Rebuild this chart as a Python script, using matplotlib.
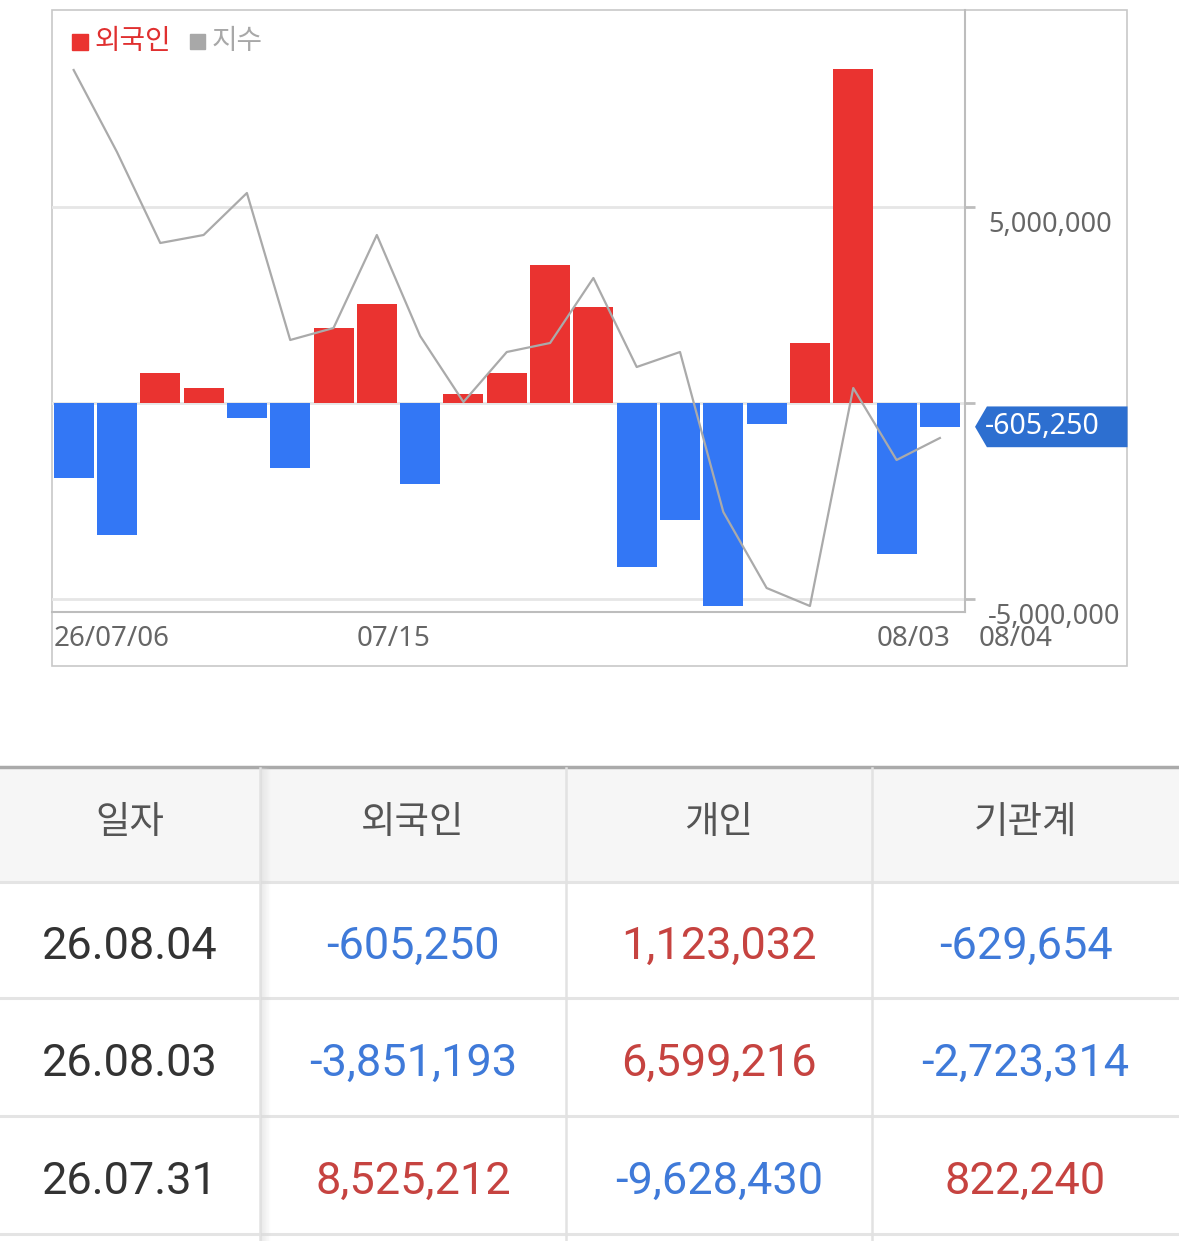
import matplotlib
matplotlib.use("Agg")
import matplotlib.pyplot as plt
import matplotlib.transforms as mtransforms
from matplotlib.patches import Polygon, Rectangle

# --- data ---
foreign = [-1.91e6, -3.37e6, 0.77e6, 0.38e6, -0.38e6, -1.66e6, 1.91e6,
           2.53e6, -2.07e6, 0.23e6, 0.77e6, 3.52e6, 2.45e6, -4.18e6,
           -2.98e6, -5.18e6, -0.54e6, 1.53e6, 8525212, -3851193, -605250]
index_vals = [2971, 2930, 2884.5, 2888.5, 2909.5, 2836, 2842, 2888.5, 2838,
              2805, 2830, 2834.5, 2867, 2822.5, 2830, 2750, 2712, 2703,
              2812, 2776, 2787]
x_label_pos = [0, 7, 19, 20]
x_labels = ["26/07/06", "07/15", "08/03", "08/04"]
y_ticks = [-5e6, 0, 5e6]

table_header = ["일자", "외국인", "개인", "기관계"]
table_dates = ["26.08.04", "26.08.03", "26.07.31"]
table_foreign = [-605250, -3851193, 8525212]
table_indiv = [1123032, 6599216, -9628430]
table_inst = [-629654, -2723314, 822240]

RED = "#ea3330"
BLUE = "#3377f5"
W, H = 1179, 1241

plt.rcParams['font.family'] = ['Noto Sans', 'Noto Sans CJK KR', 'DejaVu Sans']
fig = plt.figure(figsize=(W / 100, H / 100), dpi=100)
fig.patch.set_facecolor("white")

# background overlay in pixel coordinates
bg = fig.add_axes([0, 0, 1, 1], zorder=0)
bg.set_xlim(0, W)
bg.set_ylim(H, 0)
bg.axis("off")

# chart outer box
bg.add_patch(Rectangle((52, 10), 1127 - 52, 666 - 10, fill=False,
                       edgecolor="#c8c8c8", lw=1.2))

# main chart axes
ax = fig.add_axes([52 / W, 1 - 612 / H, (965 - 52) / W, (612 - 10) / H], zorder=2)
ax.patch.set_alpha(0)
xs = list(range(len(foreign)))
ax.bar(xs, foreign, width=0.924, color=[RED if v > 0 else BLUE for v in foreign],
       zorder=2)
ax.set_xlim(-0.5, 20.58)
ax.set_ylim(-5.33e6, 10.03e6)
for t in y_ticks:
    ax.axhline(t, color="#e6e6e6", lw=2, zorder=1)

# index line on hidden twin axis
ax2 = ax.twinx()
ax2.plot(xs, index_vals, color="#aaaaaa", lw=1.6, zorder=3)
ax2.set_ylim(2700, 3001)
ax2.axis("off")

for s in ["top", "left"]:
    ax.spines[s].set_visible(False)
for s in ["right", "bottom"]:
    ax.spines[s].set_color("#bdbdbd")
    ax.spines[s].set_linewidth(1.5)
ax.set_xticks([])
ax.yaxis.tick_right()
ax.set_yticks(y_ticks)
ax.set_yticklabels([])
ax.tick_params(axis="y", left=False, right=True, length=7, width=2,
               color="#bdbdbd")

# right tick labels (drawn slightly below the ticks, like the reference)
ytrans = mtransforms.blended_transform_factory(ax.transAxes, ax.transData)
lab_trans = ytrans + mtransforms.ScaledTranslation(0, -18 / 100, fig.dpi_scale_trans)
for t in y_ticks:
    ax.text(1.025, t, f"{int(t):,}", transform=lab_trans, ha="left", va="center",
            fontsize=19.5, color="#666666", clip_on=False)

# x labels, left-aligned on bar edges
xtrans = mtransforms.blended_transform_factory(ax.transData, ax.transAxes)
for p, lab in zip(x_label_pos, x_labels):
    tr = xtrans
    if lab == "08/04":
        tr = xtrans + mtransforms.ScaledTranslation(59 / 100, 0, fig.dpi_scale_trans)
    ax.text(p - 0.46, -0.045, lab, transform=tr, ha="left", va="center",
            fontsize=20, color="#666666", clip_on=False)

# last value tag
last = foreign[-1]
hh = 0.52e6
tag = Polygon([(1.011, last), (1.024, last + hh), (1.178, last + hh),
               (1.178, last - hh), (1.024, last - hh)], closed=True,
              transform=ytrans, facecolor="#2d6fd0", edgecolor="none",
              clip_on=False, zorder=5)
ax.add_patch(tag)
ax.text(1.022, last, f"{last:,}", transform=ytrans, ha="left", va="center",
        fontsize=20.5, color="white", clip_on=False, zorder=6)

# legend
bg.add_patch(Rectangle((72, 34), 16, 16, color=RED))
bg.text(95, 41, "외국인", fontsize=20, color="#e03030", va="center", ha="left",
        family=['Noto Sans CJK KR'])
bg.add_patch(Rectangle((190, 34), 15, 15, color="#a8a8a8"))
bg.text(212, 41, "지수", fontsize=20, color="#a8a8a8", va="center", ha="left",
        family=['Noto Sans CJK KR'])

# --- table ---
col_edges = [0, 260, 566, 872, W]
row_edges = [768, 882, 998, 1116, 1234]
bg.add_patch(Rectangle((0, 768), W, 882 - 768, color="#f6f6f6", lw=0))
bg.plot([0, W], [767, 767], color="#aaaaaa", lw=2.5)
for y in row_edges[1:]:
    bg.plot([0, W], [y, y], color="#e4e4e4", lw=2.2)
for x in col_edges[1:-1]:
    bg.plot([x, x], [768, H], color="#e2e2e2", lw=1.8)
# soft shadow right of the first column
for k in range(1, 10):
    bg.plot([260 + k, 260 + k], [768, H], color="#d8d8d8", lw=1,
            alpha=0.45 * (1 - k / 10))

centers = [(col_edges[i] + col_edges[i + 1]) / 2 for i in range(4)]
for c, h in zip(centers, table_header):
    bg.text(c, 823, h, fontsize=27, color="#555555", ha="center", va="center",
            family=['Noto Sans CJK KR'])


def val_color(v):
    return "#c64340" if v > 0 else "#3f7ad9"


row_mid = [(row_edges[i] + row_edges[i + 1]) / 2 + 7 for i in range(1, 4)]
for i, y in enumerate(row_mid):
    bg.text(centers[0], y, table_dates[i], fontsize=32.5, color="#333333",
            ha="center", va="center", family=['Roboto'])
    for c, v in zip(centers[1:], [table_foreign[i], table_indiv[i], table_inst[i]]):
        bg.text(c, y, f"{v:,}", fontsize=32.5, color=val_color(v),
                ha="center", va="center", family=['Roboto'])

fig.savefig("out.png", dpi=100)
